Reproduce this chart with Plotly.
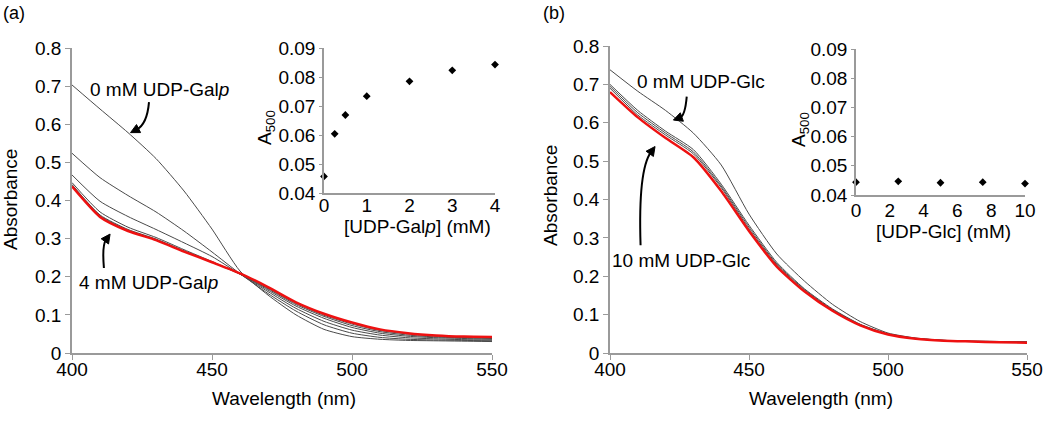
import plotly.graph_objects as go
import math

# ---------------- data ----------------
wavelength = [400, 410, 420, 430, 440, 450, 460, 470, 480, 490, 500, 510, 520, 530, 540, 550]

# panel (a): UDP-Galp concentrations (mM)
galp_conc = [0, 0.25, 0.5, 1, 2, 3, 4]
galp_0 = [0.703, 0.640, 0.578, 0.510, 0.425, 0.325, 0.215, 0.152, 0.100, 0.062, 0.043, 0.036, 0.033, 0.032, 0.031, 0.030]
galp_025 = [0.524, 0.460, 0.413, 0.370, 0.320, 0.265, 0.208, 0.156, 0.110, 0.074, 0.052, 0.041, 0.036, 0.034, 0.033, 0.032]
galp_05 = [0.467, 0.398, 0.358, 0.324, 0.289, 0.253, 0.207, 0.161, 0.117, 0.083, 0.060, 0.047, 0.040, 0.037, 0.035, 0.034]
galp_1 = [0.447, 0.370, 0.330, 0.303, 0.271, 0.240, 0.207, 0.165, 0.123, 0.091, 0.067, 0.052, 0.044, 0.040, 0.038, 0.036]
galp_2 = [0.442, 0.362, 0.324, 0.299, 0.268, 0.238, 0.207, 0.168, 0.127, 0.096, 0.072, 0.056, 0.047, 0.042, 0.040, 0.038]
galp_3 = [0.440, 0.360, 0.322, 0.297, 0.267, 0.238, 0.208, 0.170, 0.130, 0.099, 0.076, 0.059, 0.050, 0.044, 0.041, 0.040]
galp_4 = [0.437, 0.357, 0.320, 0.296, 0.266, 0.238, 0.209, 0.173, 0.133, 0.103, 0.080, 0.062, 0.052, 0.046, 0.043, 0.042]
galp_a500 = [0.0457, 0.0604, 0.0669, 0.0734, 0.0785, 0.0823, 0.0843]

# panel (b): UDP-Glc concentrations (mM)
glc_conc = [0, 2.5, 5, 7.5, 10]
glc_0 = [0.738, 0.682, 0.632, 0.573, 0.490, 0.362, 0.258, 0.187, 0.127, 0.082, 0.052, 0.039, 0.033, 0.031, 0.030, 0.029]
glc_25 = [0.700, 0.632, 0.578, 0.530, 0.440, 0.333, 0.236, 0.167, 0.115, 0.075, 0.050, 0.038, 0.033, 0.031, 0.030, 0.029]
glc_5 = [0.695, 0.626, 0.573, 0.524, 0.435, 0.328, 0.232, 0.165, 0.113, 0.074, 0.049, 0.038, 0.033, 0.030, 0.029, 0.028]
glc_75 = [0.690, 0.620, 0.568, 0.519, 0.431, 0.323, 0.229, 0.162, 0.112, 0.073, 0.049, 0.037, 0.032, 0.030, 0.029, 0.028]
glc_10 = [0.680, 0.614, 0.560, 0.510, 0.422, 0.318, 0.225, 0.160, 0.110, 0.072, 0.048, 0.037, 0.032, 0.030, 0.028, 0.027]
glc_a500 = [0.0444, 0.0447, 0.0442, 0.0444, 0.0439]

main_ticks_y = [0, 0.1, 0.2, 0.3, 0.4, 0.5, 0.6, 0.7, 0.8]
main_ticks_x = [400, 450, 500, 550]

# ---------------- figure ----------------
FONT = "Liberation Sans, Arial, Helvetica, sans-serif"
FS = 19
AX = "#9a9a9a"
GRAY = "#4a4a4a"
RED = "#ee1111"

W, H = 1050, 422


def dx(p):  # page x pixel -> paper fraction
    return p / W


def dy(p):  # page y pixel -> paper fraction
    return 1 - p / H


# plot-area geometry (page pixels): (x_left, x_right, y_bottom, y_top)
BOX = {
    "a": (72, 492, 353, 48),
    "ai": (324, 495, 193, 48),
    "b": (610, 1027, 353, 46),
    "bi": (856, 1025, 195, 49),
}

fig = go.Figure()

grey_a = [galp_0, galp_025, galp_05, galp_1, galp_2, galp_3]
for s in grey_a:
    fig.add_trace(go.Scatter(x=wavelength, y=s, mode="lines", line=dict(color=GRAY, width=1, shape="spline", smoothing=0.6),
                             xaxis="x", yaxis="y", showlegend=False, hoverinfo="skip"))
fig.add_trace(go.Scatter(x=wavelength, y=galp_4, mode="lines", line=dict(color=RED, width=2.5, shape="spline", smoothing=0.6),
                         xaxis="x", yaxis="y", showlegend=False))
fig.add_trace(go.Scatter(x=galp_conc, y=galp_a500, mode="markers", marker=dict(symbol="diamond", size=6, color="black"),
                         xaxis="x2", yaxis="y2", showlegend=False, cliponaxis=False))

grey_b = [glc_0, glc_25, glc_5, glc_75]
for s in grey_b:
    fig.add_trace(go.Scatter(x=wavelength, y=s, mode="lines", line=dict(color=GRAY, width=1, shape="spline", smoothing=0.6),
                             xaxis="x3", yaxis="y3", showlegend=False, hoverinfo="skip"))
fig.add_trace(go.Scatter(x=wavelength, y=glc_10, mode="lines", line=dict(color=RED, width=2.5, shape="spline", smoothing=0.6),
                         xaxis="x3", yaxis="y3", showlegend=False))
fig.add_trace(go.Scatter(x=glc_conc, y=glc_a500, mode="markers", marker=dict(symbol="diamond", size=6, color="black"),
                         xaxis="x4", yaxis="y4", showlegend=False, cliponaxis=False))


def axis(domain, rng, tickvals=None, dtick=None, fmt=None, anchor=None, ticklen=5, size=FS, standoff=0, ticks="outside"):
    d = dict(domain=domain, range=rng, showline=True, linecolor=AX, linewidth=1.5, ticks=ticks,
             ticklen=ticklen, tickcolor=AX, tickwidth=1.2, showgrid=False, zeroline=False, automargin=False,
             tickfont=dict(family=FONT, size=size, color="black"), anchor=anchor, fixedrange=True,
             ticklabeloverflow="allow", ticklabelstandoff=standoff)
    if tickvals is not None:
        d["tickmode"] = "array"
        d["tickvals"] = tickvals
    if dtick is not None:
        d["dtick"] = dtick
        d["tick0"] = rng[0]
    if fmt:
        d["tickformat"] = fmt
    return d


def xd(k):
    return [dx(BOX[k][0]), dx(BOX[k][1])]


def yd(k):
    return [dy(BOX[k][2]), dy(BOX[k][3])]


fig.update_layout(
    width=W, height=H, margin=dict(l=0, r=0, t=0, b=0, autoexpand=False),
    paper_bgcolor="white", plot_bgcolor="rgba(0,0,0,0)",
    font=dict(family=FONT, size=FS, color="black"),
    xaxis=axis(xd("a"), [400, 550], tickvals=main_ticks_x, anchor="y", standoff=-7),
    yaxis=axis(yd("a"), [0, 0.8], tickvals=main_ticks_y, anchor="x"),
    xaxis2=axis(xd("ai"), [0, 4], dtick=1, anchor="y2", ticks="", standoff=-6),
    yaxis2=axis(yd("ai"), [0.04, 0.09], dtick=0.01, fmt=".2f", anchor="x2", ticklen=3),
    xaxis3=axis(xd("b"), [400, 550], tickvals=main_ticks_x, anchor="y3", standoff=-7),
    yaxis3=axis(yd("b"), [0, 0.8], tickvals=main_ticks_y, anchor="x3"),
    xaxis4=axis(xd("bi"), [0, 10], dtick=2, anchor="y4", ticks="", standoff=-3),
    yaxis4=axis(yd("bi"), [0.04, 0.09], dtick=0.01, fmt=".2f", anchor="x4", ticklen=3),
)

ann = []


def txt(text, x, y, xref="paper", yref="paper", angle=0, size=FS, xanchor="center", yanchor="middle"):
    ann.append(dict(text=text, x=x, y=y, xref=xref, yref=yref, showarrow=False, textangle=angle,
                    font=dict(family=FONT, size=size, color="black"), xanchor=xanchor, yanchor=yanchor))


def pg(xp, yp):
    return dx(xp), dy(yp)


# panel labels
txt("(a)", *pg(1, 13), xanchor="left", size=18)
txt("(b)", *pg(541, 13), xanchor="left", size=18)
# axis titles
txt("Absorbance", *pg(10, 200), angle=-90)
txt("Wavelength (nm)", *pg(284, 398))
txt("Absorbance", *pg(550, 196), angle=-90)
txt("Wavelength (nm)", *pg(821, 398))
txt("A<sub>500</sub>", *pg(266, 128), angle=-90)
txt("[UDP-Gal<i>p</i>] (mM)", *pg(417.5, 227))
txt("A<sub>500</sub>", *pg(800, 130), angle=-90)
txt("[UDP-Glc] (mM)", *pg(943, 231))

# curve annotations (data coordinates)
txt("0 mM UDP-Gal<i>p</i>", 431.3, 0.692, xref="x", yref="y")
txt("4 mM UDP-Gal<i>p</i>", 427.3, 0.184, xref="x", yref="y")
txt("0 mM UDP-Glc", 432.6, 0.707, xref="x3", yref="y3")
txt("10 mM UDP-Glc", 425.5, 0.242, xref="x3", yref="y3")


# curved arrows in data coordinates: (panel, xref, yref, start, control, tip)
def d2p(k, x, y, xr=(400, 550), yr=(0, 0.8)):
    x0, x1, y0, y1 = BOX[k]
    return x0 + (x - xr[0]) / (xr[1] - xr[0]) * (x1 - x0), y0 + (y - yr[0]) / (yr[1] - yr[0]) * (y1 - y0)


def p2d(k, X, Y, xr=(400, 550), yr=(0, 0.8)):
    x0, x1, y0, y1 = BOX[k]
    return xr[0] + (X - x0) / (x1 - x0) * (xr[1] - xr[0]), yr[0] + (Y - y0) / (y1 - y0) * (yr[1] - yr[0])


arrows = [
    ("a", "x", "y", (427.5, 0.658), (426.8, 0.600), (420.9, 0.578)),
    ("a", "x", "y", (411.4, 0.223), (410.7, 0.282), (413.6, 0.312)),
    ("b", "x3", "y3", (427.6, 0.668), (427.0, 0.618), (422.8, 0.607)),
    ("b", "x3", "y3", (411.0, 0.281), (410.1, 0.477), (416.2, 0.538)),
]
shapes = []
HEAD_L, HEAD_W = 9.0, 4.5
for k, xr_, yr_, s, c, t in arrows:
    cX, cY = d2p(k, *c)
    tX, tY = d2p(k, *t)
    ux, uy = tX - cX, tY - cY
    n = math.hypot(ux, uy)
    ux, uy = ux / n, uy / n
    bX, bY = tX - HEAD_L * ux, tY - HEAD_L * uy
    p1 = p2d(k, bX - HEAD_W * uy, bY + HEAD_W * ux)
    p2 = p2d(k, bX + HEAD_W * uy, bY - HEAD_W * ux)
    b = p2d(k, bX + 2 * ux, bY + 2 * uy)
    shapes.append(dict(type="path", xref=xr_, yref=yr_,
                       path=f"M {s[0]},{s[1]} Q {c[0]},{c[1]} {b[0]},{b[1]}",
                       line=dict(color="black", width=2)))
    shapes.append(dict(type="path", xref=xr_, yref=yr_,
                       path=f"M {t[0]},{t[1]} L {p1[0]},{p1[1]} L {p2[0]},{p2[1]} Z",
                       fillcolor="black", line=dict(color="black", width=1)))

fig.update_layout(annotations=ann, shapes=shapes)
fig.write_html("out.html", config={"displayModeBar": False},
               post_script="document.body.style.margin='0';document.body.style.overflow='hidden';")
